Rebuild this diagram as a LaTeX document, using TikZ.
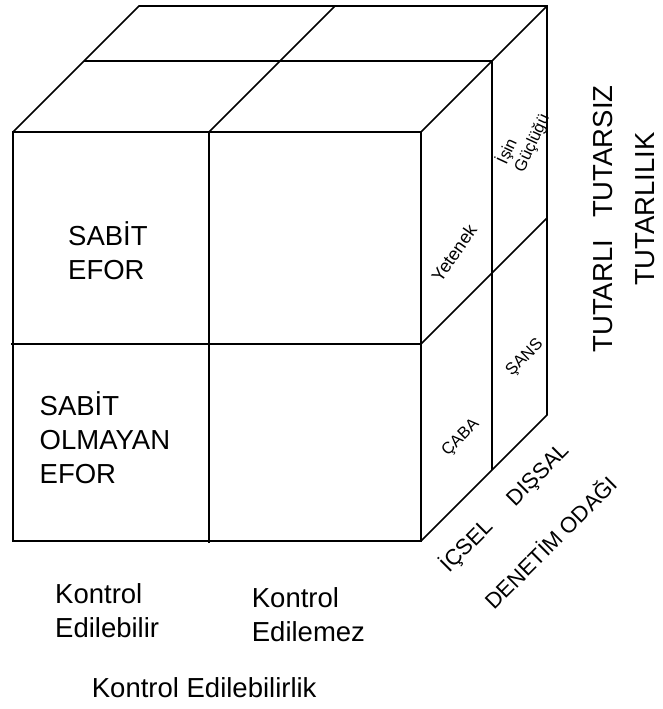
\documentclass[tikz,border=0pt]{standalone}
\usepackage{fontspec}
\setmainfont{Liberation Sans}

\begin{document}
\begin{tikzpicture}[
    x=1pt, y=-1pt,
    cubeline/.style = {draw=black, line width=1.6pt, line join=miter},
    facetext/.style = {inner sep=0pt, align=left, anchor=base west, font=\fontsize{27.5}{34}\selectfont},
    sidetext/.style = {inner sep=0pt, align=left, font=\fontsize{16.5}{19}\selectfont},
    axistext/.style = {inner sep=0pt, rotate=45, font=\fontsize{22}{25}\selectfont},
    vtext/.style = {inner sep=0pt, rotate=90, font=\fontsize{27.5}{34}\selectfont}
]
\useasboundingbox (0,0) rectangle (662,709);

% front face
\coordinate (ftl) at (13,132);
\coordinate (ftr) at (421,132);
\coordinate (fbl) at (13,541);
\coordinate (fbr) at (421,541);
\coordinate (ftm) at (209,132);
\coordinate (fbm) at (209,543);
\coordinate (fml) at (11,344);
\coordinate (fmr) at (421,344);
% back edges
\coordinate (btl) at (139,6);
\coordinate (btm) at (335,6);
\coordinate (btr) at (547,6);
\coordinate (bmr) at (547,218);
\coordinate (bbr) at (547,415);
% half depth
\coordinate (mtl) at (84,61);
\coordinate (mtr) at (492,61);
\coordinate (mbr) at (492,470);

\draw [cubeline] (ftl) rectangle (fbr);
\draw [cubeline] (fml) -- (fmr);
\draw [cubeline] (ftm) -- (fbm);
\draw [cubeline] (ftl) -- (btl) -- (btr) -- (bbr) -- (fbr);
\draw [cubeline] (ftr) -- (btr);
\draw [cubeline] (ftm) -- (btm);
\draw [cubeline] (mtl) -- (mtr) -- (mbr);
\draw [cubeline] (fmr) -- (bmr);

% front cells
\node (sabit) [facetext] at (68,279) {SAB\.{I}T\\EFOR};
\node (sabitdegil) [facetext] at (39.5,483) {SAB\.{I}T\\OLMAYAN\\EFOR};

% controllability
\node (kedilir) [facetext] at (55,637) {Kontrol\\Edilebilir};
\node (kedilmez) [facetext] at (251.7,641) {Kontrol\\Edilemez};
\node (kontrol) [facetext] at (91.7,697) {Kontrol Edilebilirlik};

% stability
\node (tutar) [vtext] at (603,219) {TUTARLI\hspace{22pt}TUTARSIZ};
\node (tutarlilik) [vtext] at (645.5,209) {TUTARLILIK};

% side face
\node (yetenek) [sidetext, rotate=55, font=\fontsize{18}{20}\selectfont] at (454,253) {Yetenek};
\node (gucluk) [sidetext, rotate=65] at (523,139) {İşin\\Güçlüğü};
\node (sans) [sidetext, rotate=45] at (525,358) {ŞANS};
\node (caba) [sidetext, rotate=45] at (461,438) {ÇABA};

% locus
\node (icsel) [axistext] at (466.7,545.7) {İÇSEL};
\node (dissal) [axistext] at (539,475.7) {DIŞSAL};
\node (odak) [axistext] at (550,541.7) {DENETİM ODAĞI};

\end{tikzpicture}
\end{document}
